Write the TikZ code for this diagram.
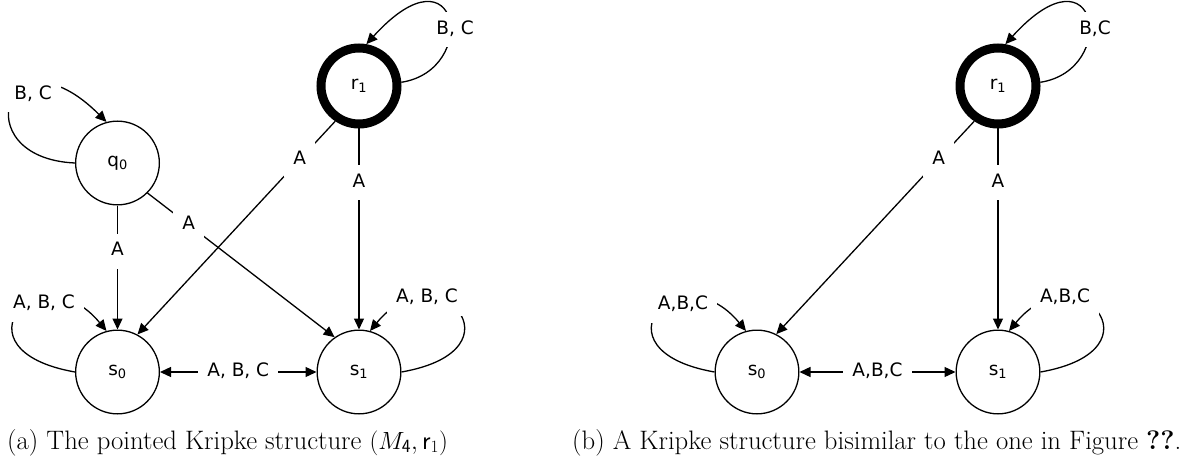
\documentclass[tikz,border=0pt]{standalone}
\usepackage{fontspec}
\newfontfamily\nodefont{DejaVu Sans}
\usetikzlibrary{arrows.meta,calc}
\begin{document}
\begin{tikzpicture}[x=1pt,y=-1pt,
  nfont/.style={font=\nodefont\fontsize{18.5}{20}\selectfont},
  st/.style={circle, draw, line width=1.3pt, minimum size=83.7pt, inner sep=0pt, nfont},
  initst/.style={circle, draw, line width=9pt, minimum size=76pt, inner sep=0pt, nfont},
  lbl/.style={fill=white, inner xsep=9pt, inner ysep=9pt, text height=13pt, text depth=4pt, nfont},
  arr/.style={line width=1.3pt, -{Triangle[length=11pt,width=10pt]}},
  barr/.style={line width=1.3pt, {Triangle[length=11pt,width=10pt]}-{Triangle[length=11pt,width=10pt]}},
  captext/.style={font=\fontsize{26.7}{30}\selectfont, inner sep=0pt, anchor=base west}
  ]
\useasboundingbox (0,0) rectangle (1199,468);

% ---------- (a) ----------
\node[st]     (q0) at (117.5,163) {q\textsubscript{0}};
\node[initst] (r1) at (359,86)    {r\textsubscript{1}};
\node[st]     (s0) at (117.5,372) {s\textsubscript{0}};
\node[st]     (s1) at (359,372)   {s\textsubscript{1}};

\draw[arr] (q0.west) .. controls ($(q0)+(-155,-5)$) and ($(q0)+(-110,-140)$) .. (q0.105)
  node[lbl] at ($(q0)+(-84.5,-68)$) {B, C};
\draw[arr] (r1.5) .. controls ($(r1)+(121,-16)$) and ($(r1)+(101,-145)$) .. (r1.80)
  node[lbl] at ($(r1)+(96,-56)$) {B, C};
\draw[arr] (s0.west) .. controls ($(s0)+(-168,-22)$) and ($(s0)+(-78,-122)$) .. (s0.105)
  node[lbl] at ($(s0)+(-73.5,-68)$) {A, B, C};
\draw[arr] (s1.east) .. controls ($(s1)+(168,-22)$) and ($(s1)+(78,-122)$) .. (s1.75)
  node[lbl] at ($(s1)+(68,-74)$) {A, B, C};

\draw[arr] (q0) -- node[lbl, pos=0.37] {A} (s0);
\draw[arr] (q0.-45) -- node[lbl, pos=0.22] {A} (s1.125);
\draw[arr] (r1.236) -- node[lbl, pos=0.18] {A} (s0.62);
\draw[arr] (r1) -- node[lbl, pos=0.27] {A} (s1);
\draw[barr] (s0) -- node[lbl] {A, B, C} (s1);

\node[captext] (capa) at (7,449) {(a) The pointed Kripke structure $(M_{\mathsf{4}}, \mathsf{r}_{1})$};

% ---------- (b) ----------
\node[initst] (r1b) at (998,86)  {r\textsubscript{1}};
\node[st]     (s0b) at (757,372) {s\textsubscript{0}};
\node[st]     (s1b) at (998,372) {s\textsubscript{1}};

\draw[arr] (r1b.5) .. controls ($(r1b)+(121,-16)$) and ($(r1b)+(101,-145)$) .. (r1b.80)
  node[lbl] at ($(r1b)+(97,-56)$) {B,C};
\draw[arr] (s0b.west) .. controls ($(s0b)+(-168,-22)$) and ($(s0b)+(-78,-122)$) .. (s0b.105)
  node[lbl] at ($(s0b)+(-74,-67)$) {A,B,C};
\draw[arr] (s1b.east) .. controls ($(s1b)+(168,-22)$) and ($(s1b)+(78,-122)$) .. (s1b.75)
  node[lbl] at ($(s1b)+(67,-74)$) {A,B,C};

\draw[arr] (r1b.236) -- node[lbl, pos=0.18] {A} (s0b.63);
\draw[arr] (r1b) -- node[lbl, pos=0.27] {A} (s1b);
\draw[barr] (s0b) -- node[lbl] {A,B,C} (s1b);

\node[captext] (capb) at (572,449) {(b) A Kripke structure bisimilar to the one in Figure \textbf{??}.};
\end{tikzpicture}
\end{document}
